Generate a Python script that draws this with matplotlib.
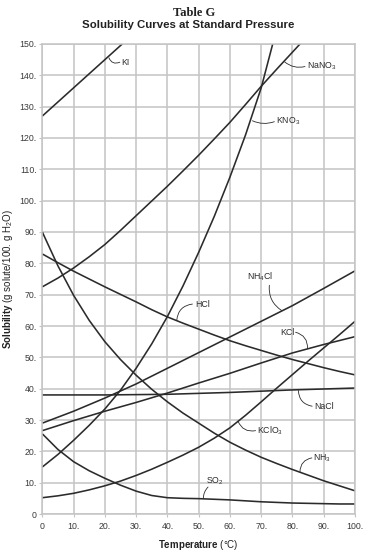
import matplotlib
matplotlib.use("Agg")
import matplotlib.pyplot as plt

plt.rcParams['font.family'] = ['Liberation Sans', 'DejaVu Sans']
plt.rcParams['mathtext.fontset'] = 'custom'
plt.rcParams['mathtext.rm'] = 'Liberation Sans'
plt.rcParams['mathtext.bf'] = 'Liberation Sans:bold'
plt.rcParams['mathtext.it'] = 'Liberation Sans:italic'

# ---- data (temperature in °C, solubility in g solute / 100 g H2O) ----
ki_t = [0, 10, 20, 30]
ki_s = [127, 136, 145, 154]

nano3_t = [0, 5, 10, 15, 20, 25, 30, 35, 40, 45, 50, 55, 60, 65, 70, 75, 80, 85]
nano3_s = [72.5, 75.3, 78.5, 82.1, 86, 90.5, 95.2, 99.9, 104.6, 109.5, 114.5,
           119.7, 125, 130.7, 136.5, 142, 147.4, 152.8]

kno3_t = [0, 5, 10, 15, 20, 25, 30, 35, 40, 45, 50, 55, 60, 65, 70, 75]
kno3_s = [15, 19, 23.5, 28.3, 33.5, 39.5, 46.5, 54.3, 63, 72.8, 83.5, 95,
          107.5, 121, 136, 155]

hcl_t = [0, 5, 10, 15, 20, 25, 30, 35, 40, 45, 50, 55, 60, 65, 70, 75, 80, 85, 90, 95, 100]
hcl_s = [83, 80.2, 77.5, 75, 72.5, 70.1, 67.7, 65.2, 62.9, 60.9, 59, 57.1,
         55.3, 53.7, 52.2, 50.7, 49.3, 48, 46.7, 45.5, 44.4]

nh4cl_t = [0, 10, 20, 30, 40, 50, 60, 70, 80, 90, 100]
nh4cl_s = [29, 32.8, 37, 41.5, 46.5, 51.5, 56.5, 61.5, 66.5, 72, 77.6]

kcl_t = [0, 10, 20, 30, 40, 50, 60, 70, 80, 90, 100]
kcl_s = [26.6, 29.8, 32.8, 35.6, 38.6, 41.8, 44.9, 48.2, 51.4, 54.1, 56.6]

nacl_t = [0, 20, 40, 60, 80, 100]
nacl_s = [38, 38, 38.2, 38.8, 39.6, 40.2]

kclo3_t = [0, 5, 10, 15, 20, 25, 30, 35, 40, 45, 50, 55, 60, 65, 70, 75, 80, 85, 90, 95, 100]
kclo3_s = [5.2, 5.8, 6.6, 7.7, 9, 10.5, 12.3, 14.3, 16.5, 18.8, 21.3, 24.2,
           27.5, 31.5, 35.8, 40.2, 44.5, 48.8, 53, 57.2, 61.5]

nh3_t = [0, 5, 10, 15, 20, 25, 30, 35, 40, 45, 50, 55, 60, 65, 70, 75, 80, 85, 90, 95, 100]
nh3_s = [90, 79.2, 69.8, 61.8, 55, 49.3, 44.3, 39.8, 35.8, 32.2, 29, 25.8,
         22.9, 20.4, 18.1, 16.1, 14.2, 12.4, 10.6, 9, 7.4]

so2_t = [0, 5, 10, 15, 20, 25, 30, 35, 40, 45, 50, 55, 60, 65, 70, 75, 80, 85, 90, 95, 100]
so2_s = [25.6, 20.6, 16.7, 13.8, 11.4, 9.2, 7.3, 5.9, 5.2, 5.0, 4.9, 4.7,
         4.5, 4.2, 3.9, 3.7, 3.5, 3.4, 3.3, 3.2, 3.2]

x_ticks = list(range(0, 101, 10))
x_tick_labels = ['0'] + [f'{v}.' for v in x_ticks[1:]]
y_ticks = list(range(0, 151, 10))
y_tick_labels = ['0'] + [f'{v}.' for v in y_ticks[1:]]

# label text, text anchor (x, y, ha), leader start on curve, leader end, rad
labels = [
    ('KI', (25.4, 144.1, 'left'), (21.3, 145.6), (24.8, 144.2), 0.5),
    ('NaNO$_3$', (84.6, 143.0, 'left'), (77.5, 144.3), (84.0, 142.8), 0.25),
    ('KNO$_3$', (74.8, 125.2, 'left'), (67.2, 125.5), (74.2, 125.2), 0.2),
    ('NH$_4$Cl', (69.6, 75.6, 'center'), (76.6, 64.9), (72.6, 73.0), -0.3),
    ('HCl', (48.8, 66.8, 'left'), (43.0, 61.8), (48.0, 67.0), -0.4),
    ('KCl', (78.4, 58.0, 'center'), (84.8, 52.8), (81.0, 58.0), 0.4),
    ('NaCl', (86.9, 34.3, 'left'), (81.9, 39.4), (86.3, 34.4), 0.4),
    ('KClO$_3$', (68.8, 26.6, 'left'), (62.6, 29.6), (68.2, 26.6), 0.4),
    ('NH$_3$', (86.7, 17.9, 'left'), (82.4, 13.5), (86.2, 17.9), -0.4),
    ('SO$_2$', (52.4, 10.4, 'left'), (51.5, 5.0), (53.0, 8.6), -0.2),
]

curves = [
    (ki_t, ki_s), (nano3_t, nano3_s), (kno3_t, kno3_s), (hcl_t, hcl_s),
    (nh4cl_t, nh4cl_s), (kcl_t, kcl_s), (nacl_t, nacl_s), (kclo3_t, kclo3_s),
    (nh3_t, nh3_s), (so2_t, so2_s),
]

W, H = 371, 554
fig = plt.figure(figsize=(W / 100, H / 100), dpi=100)
fig.patch.set_facecolor('white')
ax = fig.add_axes([42.3 / W, (H - 514) / H, (355 - 42.3) / W, (514 - 44) / H])

grid_col = '#c4c4c4'
ax.set_xlim(0, 100)
ax.set_ylim(0, 150)
ax.set_xticks(x_ticks)
ax.set_xticklabels(x_tick_labels)
ax.set_yticks(y_ticks)
ax.set_yticklabels(y_tick_labels)
ax.grid(True, color=grid_col, lw=1.1)
ax.set_axisbelow(True)
for sp in ax.spines.values():
    sp.set_color(grid_col)
    sp.set_linewidth(1.1)
ax.tick_params(axis='both', length=2, width=0.8, color=grid_col,
               labelsize=6.3, labelcolor='#3a3a3a')
ax.tick_params(axis='x', pad=4)
ax.tick_params(axis='y', pad=2)

curve_col = '#2b2b2b'
for t, s in curves:
    ax.plot(t, s, color=curve_col, lw=1.15, solid_capstyle='butt',
            solid_joinstyle='round')

for text, (tx, ty, ha), p0, p1, rad in labels:
    ax.text(tx, ty, text, fontsize=6.3, color='#2b2b2b', ha=ha, va='center')
    ax.annotate('', xy=p1, xytext=p0,
                arrowprops=dict(arrowstyle='-', color='#2b2b2b', lw=0.6,
                                shrinkA=0, shrinkB=0,
                                connectionstyle=f'arc3,rad={rad}'))

ax.set_xlabel(r'$\bf{Temperature}$ (°C)', fontsize=7, color='#222222', labelpad=5)
ax.set_ylabel(r'$\bf{Solubility}$ (g solute/100. g H$_2$O)', fontsize=7,
              color='#222222', labelpad=3)

fig.text(194 / W, 1 - 12.5 / H, 'Table G', family='Liberation Serif',
         fontweight='bold', fontsize=9, ha='center', va='center', color='#222222')
fig.text(188.5 / W, 1 - 25 / H, 'Solubility Curves at Standard Pressure',
         fontweight='bold', fontsize=8.2, ha='center', va='center', color='#222222')

fig.savefig('out.png', dpi=100, facecolor='white')
